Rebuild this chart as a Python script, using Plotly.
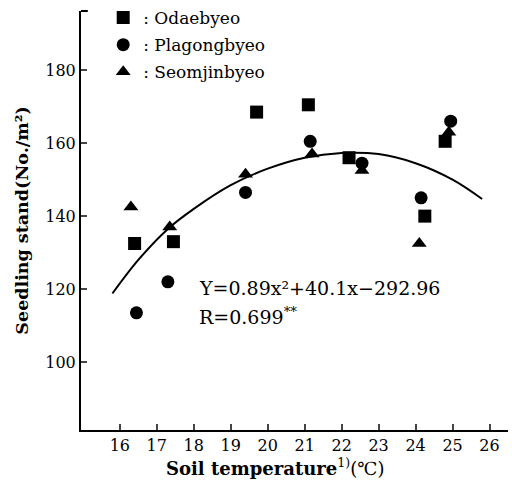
import plotly.graph_objects as go

# Soil temperature (°C) and seedling stand (No./m²) per cultivar
odae_x = [16.4, 17.45, 19.7, 21.1, 22.2, 24.25, 24.8]
odae_y = [132.5, 133.0, 168.5, 170.5, 156.0, 140.0, 160.5]

plag_x = [16.45, 17.3, 19.4, 21.15, 22.55, 24.15, 24.95]
plag_y = [113.5, 122.0, 146.5, 160.5, 154.5, 145.0, 166.0]

seom_x = [16.3, 17.35, 19.4, 21.2, 22.55, 24.1, 24.9]
seom_y = [142.5, 137.0, 151.5, 157.0, 152.5, 132.5, 163.0]

# fitted regression curve
fit_x = [15.8, 16.5, 17.3, 18.0, 19.0, 20.0, 21.0, 22.0, 23.0, 24.0, 25.0, 25.8]
fit_y = [118.8, 128.0, 136.5, 142.0, 148.5, 153.0, 156.0, 157.3, 157.0, 154.5, 150.0, 144.7]

x_ticks = [16, 17, 18, 19, 20, 21, 22, 23, 24, 25, 26]
y_ticks = [100, 120, 140, 160, 180]

names = [": Odaebyeo", ": Plagongbyeo", ": Seomjinbyeo"]
eq_text = "Y=0.89x²+40.1x−292.96"
r_text = "R=0.699<sup>**</sup>"
x_title = "<b>Soil temperature</b><sup>1)</sup>(℃)"
y_title = "<b>Seedling stand(No./m²)</b>"

SERIF = "DejaVu Serif"

fig = go.Figure()
fig.add_trace(go.Scatter(x=fit_x, y=fit_y, mode="lines", line=dict(color="black", width=2, shape="spline"),
                         showlegend=False, hoverinfo="skip"))
for i, (xs, ys, sym) in enumerate([(odae_x, odae_y, "square"), (plag_x, plag_y, "circle"),
                                   (seom_x, seom_y, "triangle-up")]):
    fig.add_trace(go.Scatter(x=xs, y=ys, mode="markers", name=names[i], legendgroup=str(i),
                             marker=dict(symbol=sym, color="black", size=13, line=dict(width=0))))

fig.update_layout(
    width=512, height=488,
    margin=dict(l=81, r=4, t=11, b=58, autoexpand=False),
    paper_bgcolor="white", plot_bgcolor="white",
    font=dict(family=SERIF, color="black", size=16),
    legend=dict(x=0.052, y=1.0, xref="paper", yref="container", xanchor="left", yanchor="top",
                bgcolor="rgba(0,0,0,0)", font=dict(family=SERIF, size=17), tracegroupgap=2),
    xaxis=dict(range=[14.95, 26.5], tickvals=x_ticks, ticks="inside", ticklen=6, tickwidth=1.5,
               showline=True, linewidth=2, linecolor="black", showgrid=False, zeroline=False,
               tickfont=dict(family=SERIF, size=16)),
    yaxis=dict(range=[81.4, 196.2], tickvals=y_ticks, ticks="inside", ticklen=6, tickwidth=1.5,
               showline=True, linewidth=2, linecolor="black", showgrid=False, zeroline=False,
               tickfont=dict(family=SERIF, size=16),
               title=dict(text=y_title, standoff=12, font=dict(family=SERIF, size=17.5))),
)
fig.add_shape(type="line", xref="paper", yref="paper", x0=0, x1=0.016, y0=1, y1=1,
              line=dict(color="black", width=2))
fig.add_annotation(x=0.454, y=-0.088, xref="paper", yref="paper", text=x_title, showarrow=False,
                   xanchor="center", yanchor="middle", font=dict(family=SERIF, size=18))
fig.add_annotation(x=18.08, y=120.3, xref="x", yref="y", text=eq_text, showarrow=False,
                   xanchor="left", font=dict(family=SERIF, size=19))
fig.add_annotation(x=18.08, y=112.6, xref="x", yref="y", text=r_text, showarrow=False,
                   xanchor="left", font=dict(family=SERIF, size=19))

fig.write_html("out.html")
